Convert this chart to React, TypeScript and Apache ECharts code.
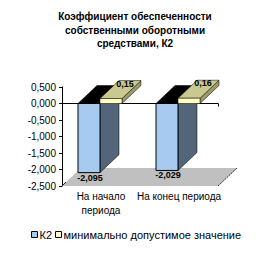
import React, { useEffect, useRef } from 'react';
import * as echarts from 'echarts';

const titleText = 'Коэффициент обеспеченности\nсобственными оборотными\nсредствами, К2';
const categories = ['На начало\nпериода', 'На конец периода'];
const seriesNames = ['К2', 'минимально допустимое значение'];
const k2Values = [-2.095, -2.029];
const minValues = [0.15, 0.16];
const yMin = -2.5;
const yMax = 0.5;
const yStep = 0.5;

const FONT = 'Liberation Sans, Arial, sans-serif';
const DX = 19;
const DY = 18;
const BAR_FRAC = 0.282;

const fmt = (v: number, d: number) => v.toFixed(d).replace('.', ',');

function makeBarRenderer(kind: number, colors: { front: string; top: string; side: string }, dec: number) {
  return (params: any, api: any) => {
    const cat = api.value(0);
    const v = api.value(1);
    const p = api.coord([cat, v]);
    const p0 = api.coord([cat, 0]);
    const cx = p[0];
    const yv = p[1];
    const y0 = p0[1];
    const band = api.size([1, 0])[0];
    const w = band * BAR_FRAC;
    const x0 = kind === 0 ? cx - w - 1 : cx - 1;
    const x1 = x0 + w;
    const children: any[] = [];
    if (v < 0) {
      children.push({
        type: 'polygon',
        shape: { points: [[x0, y0], [x1, y0], [x1 + DX, y0 - DY], [x0 + DX, y0 - DY]] },
        style: { fill: colors.top, stroke: '#000', lineWidth: 0.5 },
      });
      children.push({
        type: 'polygon',
        shape: { points: [[x1, y0], [x1 + DX, y0 - DY], [x1 + DX, yv - DY], [x1, yv]] },
        style: { fill: colors.side, stroke: '#000', lineWidth: 0.5 },
      });
      children.push({
        type: 'rect',
        shape: { x: x0, y: y0, width: w, height: yv - y0 },
        style: { fill: colors.front, stroke: '#000', lineWidth: 1 },
      });
      children.push({
        type: 'text',
        style: {
          text: fmt(v, dec),
          x: (x0 + x1) / 2 + 1,
          y: yv + 5,
          align: 'center',
          verticalAlign: 'middle',
          fill: '#000',
          font: 'bold 9px ' + FONT,
        },
      });
    } else {
      children.push({
        type: 'polygon',
        shape: { points: [[x1, yv], [x1 + DX, yv - DY], [x1 + DX, y0 - DY], [x1, y0]] },
        style: { fill: colors.side, stroke: '#000', lineWidth: 0.5 },
      });
      children.push({
        type: 'polygon',
        shape: { points: [[x0, yv], [x1, yv], [x1 + DX, yv - DY], [x0 + DX, yv - DY]] },
        style: { fill: colors.top, stroke: '#000', lineWidth: 0.5 },
      });
      children.push({
        type: 'rect',
        shape: { x: x0, y: yv, width: w, height: y0 - yv },
        style: { fill: colors.front, stroke: '#000', lineWidth: 0.5 },
      });
      children.push({
        type: 'text',
        style: {
          text: fmt(v, dec),
          x: (x0 + x1) / 2 + 14,
          y: yv - 15,
          align: 'center',
          verticalAlign: 'middle',
          fill: '#000',
          font: 'bold 9px ' + FONT,
        },
      });
    }
    return { type: 'group', children };
  };
}

function renderFloor(params: any, api: any) {
  const cs = params.coordSys;
  const gx = cs.x;
  const gw = cs.width;
  const gb = api.coord([0, yMin])[1];
  return {
    type: 'group',
    children: [
      {
        type: 'polygon',
        shape: { points: [[gx, gb], [gx + gw, gb], [gx + gw + DX, gb - DY], [gx + DX, gb - DY]] },
        style: { fill: '#C0C0C0' },
      },
      {
        type: 'polyline',
        shape: { points: [[gx + gw, gb], [gx + gw + DX, gb - DY]] },
        style: { stroke: '#222', lineWidth: 1, lineDash: [2, 1], fill: null },
      },
      {
        type: 'polyline',
        shape: { points: [[gx, gb], [gx + 4, gb - 4]] },
        style: { stroke: '#222', lineWidth: 1, fill: null },
      },
    ],
  };
}

export default function App() {
  const ref = useRef<HTMLDivElement>(null);
  useEffect(() => {
    if (!ref.current) return;
    const chart = echarts.init(ref.current, undefined, { renderer: 'svg' });
    chart.setOption({
      animation: false,
      backgroundColor: '#fff',
      textStyle: { fontFamily: FONT },
      title: {
        text: titleText,
        left: 'center',
        top: 10,
        padding: 0,
        textStyle: { fontSize: 10, fontWeight: 'bold', color: '#000', lineHeight: 13.5, fontFamily: FONT },
      },
      legend: {
        data: seriesNames,
        left: 31,
        top: 229,
        padding: 0,
        icon: 'rect',
        itemWidth: 6,
        itemHeight: 6,
        itemGap: 3,
        itemStyle: { borderColor: '#000', borderWidth: 1 },
        textStyle: { fontSize: 11, color: '#000', fontFamily: FONT, padding: [0, 0, 0, -3] },
      },
      grid: { left: 62, top: 87, width: 156, height: 99 },
      xAxis: [
        {
          type: 'category',
          data: categories,
          position: 'bottom',
          axisLine: { show: false, onZero: false },
          axisTick: { show: true, inside: true, length: 2, lineStyle: { color: '#000' } },
          axisLabel: { interval: 0, margin: 3, fontSize: 10, color: '#000', lineHeight: 14, fontFamily: FONT },
          splitLine: { show: false },
        },
        {
          type: 'category',
          data: categories,
          position: 'bottom',
          axisLine: { show: true, onZero: true, lineStyle: { color: '#000', width: 1 } },
          axisTick: { show: true, length: 3, lineStyle: { color: '#000' } },
          axisLabel: { show: false },
          splitLine: { show: false },
        },
      ],
      yAxis: {
        type: 'value',
        min: yMin,
        max: yMax,
        interval: yStep,
        axisLine: { show: true, lineStyle: { color: '#000', width: 1 } },
        axisTick: { show: true, length: 3, lineStyle: { color: '#000' } },
        axisLabel: { fontSize: 10, color: '#000', margin: 6, fontFamily: FONT, formatter: (v: number) => fmt(v, 3) },
        splitLine: { show: false },
      },
      series: [
        {
          type: 'custom',
          name: 'floor',
          renderItem: renderFloor,
          data: [[0, yMin]],
          encode: { x: 0, y: 1 },
          silent: true,
          z: 1,
        },
        {
          type: 'custom',
          name: seriesNames[0],
          itemStyle: { color: '#A6CAF0' },
          renderItem: makeBarRenderer(0, { front: '#A6CAF0', top: '#000000', side: '#52657A' }, 3),
          data: k2Values.map((v, i) => [i, v]),
          encode: { x: 0, y: 1 },
          z: 2,
        },
        {
          type: 'custom',
          name: seriesNames[1],
          itemStyle: { color: '#FFFFC0' },
          renderItem: makeBarRenderer(1, { front: '#FFFFC0', top: '#C8C890', side: '#9A9A66' }, 2),
          data: minValues.map((v, i) => [i, v]),
          encode: { x: 0, y: 1 },
          z: 3,
        },
      ],
    });
    return () => chart.dispose();
  }, []);
  return <div ref={ref} style={{ position: 'fixed', left: 0, top: 0, width: 270, height: 265 }} />;
}
